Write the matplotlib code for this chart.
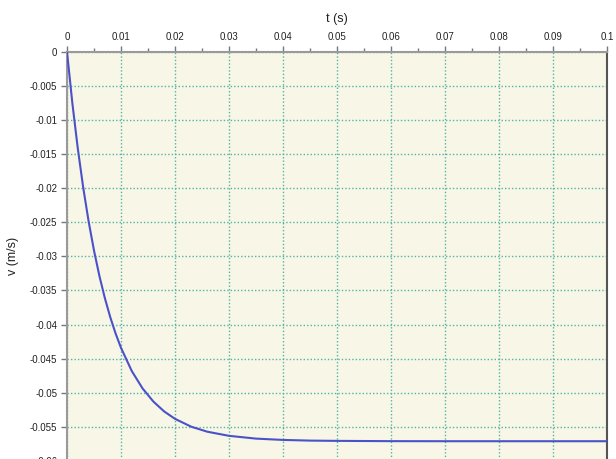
import matplotlib
matplotlib.use("Agg")
import matplotlib.pyplot as plt
from matplotlib.ticker import MultipleLocator

plt.rcParams['font.family'] = ['Liberation Sans', 'DejaVu Sans']

t = [0, 0.001, 0.002, 0.003, 0.004, 0.005, 0.006, 0.007, 0.008, 0.009, 0.010,
     0.012, 0.014, 0.016, 0.018, 0.020, 0.023, 0.026, 0.030, 0.035, 0.040,
     0.045, 0.050, 0.060, 0.070, 0.080, 0.090, 0.100]
v = [0, -0.00760, -0.01419, -0.01990, -0.02486, -0.02915, -0.03287, -0.03609,
     -0.03889, -0.04131, -0.04341, -0.04682, -0.04937, -0.05129, -0.05274,
     -0.05382, -0.05497, -0.05571, -0.05631, -0.05672, -0.05691, -0.05701,
     -0.05705, -0.05709, -0.05710, -0.05710, -0.05710, -0.05710]

xticks = [0, 0.01, 0.02, 0.03, 0.04, 0.05, 0.06, 0.07, 0.08, 0.09, 0.1]
xticklabels = ['0', '0.01', '0.02', '0.03', '0.04', '0.05', '0.06', '0.07', '0.08', '0.09', '0.1']
yticks = [0, -0.005, -0.01, -0.015, -0.02, -0.025, -0.03, -0.035, -0.04, -0.045, -0.05, -0.055, -0.06]
yticklabels = ['0', '-0.005', '-0.01', '-0.015', '-0.02', '-0.025', '-0.03', '-0.035', '-0.04', '-0.045', '-0.05', '-0.055', '-0.06']

fig = plt.figure(figsize=(6.16, 4.59), dpi=100)
ax = fig.add_axes([67/616, -2/459, 540/616, (461-51.7)/459])
ax.set_facecolor('#f8f6e6')

ax.plot(t, v, color='#4b52c9', lw=1.5, zorder=3)

ax.set_xlim(0, 0.1)
ax.set_ylim(-0.06, 0)
ax.xaxis.tick_top()
ax.xaxis.set_label_position('top')
ax.set_xticks(xticks)
ax.set_xticklabels(xticklabels)
ax.set_yticks(yticks)
ax.set_yticklabels(yticklabels)
ax.xaxis.set_minor_locator(MultipleLocator(0.005))
ax.tick_params(axis='both', which='major', labelsize=7, color='#777777', length=4, width=1, pad=3, labelcolor='#222222')
ax.tick_params(axis='x', which='minor', color='#777777', length=3, width=1)
ax.set_xlabel('t (s)', fontsize=9, labelpad=7, color='#222222')
ax.set_ylabel('v (m/s)', fontsize=9, labelpad=8, color='#222222')

ax.grid(True, which='major', color='#3fae9f', linestyle=(0, (1, 1.5)), lw=1, alpha=0.9)

for s in ['top', 'left']:
    ax.spines[s].set_color('#9a9a9a')
    ax.spines[s].set_linewidth(1.5)
ax.spines['right'].set_color('#555555')
ax.spines['right'].set_linewidth(1.5)
ax.spines['bottom'].set_visible(False)

fig.savefig('out.png', dpi=100)
